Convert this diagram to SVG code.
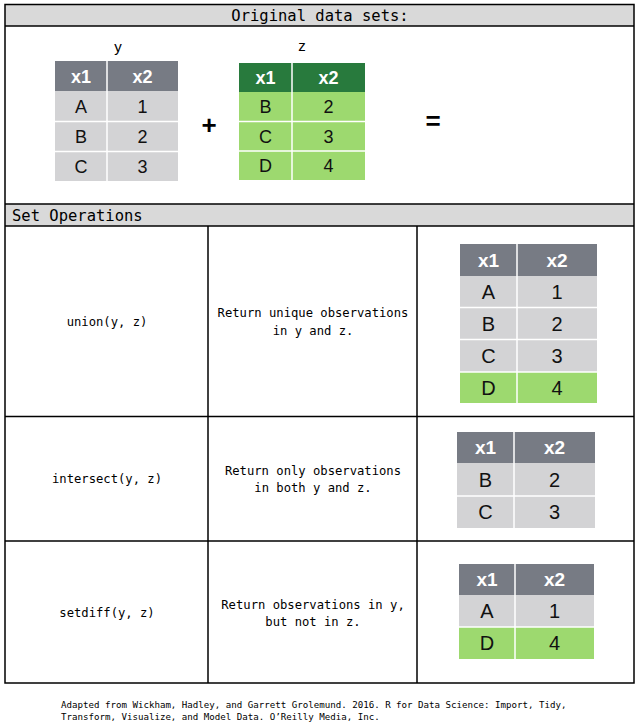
<svg xmlns="http://www.w3.org/2000/svg" width="644" height="725" viewBox="0 0 644 725">
<style>
.mono{font-family:"DejaVu Sans Mono","Liberation Mono",monospace;fill:#000}
.hdr{font-size:15.5px}
.cell{font-size:12.2px;text-anchor:middle}
.cred{font-size:9.15px}
.th{font-family:"Liberation Sans",Arial,sans-serif;font-weight:bold;font-size:18px;fill:#fff;text-anchor:middle}
.td{font-family:"Liberation Sans",Arial,sans-serif;font-size:18px;fill:#111;text-anchor:middle}
.r .th{font-size:19px}
.r .td{font-size:20px}
.gh{fill:#777b84}
.gb{fill:#d3d3d5}
.dg{fill:#287a3d}
.lg{fill:#9dd96f}
.sep{stroke:#fff;stroke-width:1.5}
.grid{stroke:#000;stroke-width:1.5;fill:none}
.lab{font-family:"Liberation Sans",Arial,sans-serif;font-size:15px;fill:#000;text-anchor:middle}
.op{font-family:"Liberation Sans",Arial,sans-serif;font-size:26px;font-weight:bold;fill:#000;text-anchor:middle}
</style>
<rect width="644" height="725" fill="#fff"/>
<g id="frame">
<rect x="5" y="4.5" width="629" height="21.5" fill="#d9d9d9"/>
<rect x="5" y="204" width="629" height="22" fill="#d9d9d9"/>
<rect class="grid" x="5" y="4.5" width="629" height="678.5"/>
<line class="grid" x1="5" y1="26" x2="634" y2="26"/>
<line class="grid" x1="5" y1="204" x2="634" y2="204"/>
<line class="grid" x1="5" y1="226" x2="634" y2="226"/>
<line class="grid" x1="5" y1="416.5" x2="634" y2="416.5"/>
<line class="grid" x1="5" y1="541" x2="634" y2="541"/>
<line class="grid" x1="208" y1="226" x2="208" y2="683"/>
<line class="grid" x1="417" y1="226" x2="417" y2="683"/>
<text class="mono hdr" x="320" y="21" text-anchor="middle">Original data sets:</text>
<text class="mono hdr" x="12" y="221">Set Operations</text>
</g>
<g id="table-y">
<text class="lab" x="118" y="52">y</text>
<rect class="gh" x="55" y="61" width="123" height="30"/>
<rect class="gb" x="55" y="91" width="123" height="90"/>
<line class="sep" x1="107" y1="61" x2="107" y2="181"/>
<line class="sep" x1="55" y1="121.5" x2="178" y2="121.5"/>
<line class="sep" x1="55" y1="151.5" x2="178" y2="151.5"/>
<text class="th" x="81" y="82.5">x1</text><text class="th" x="142.5" y="82.5">x2</text>
<text class="td" x="81" y="112.5">A</text><text class="td" x="142.5" y="112.5">1</text>
<text class="td" x="81" y="142.5">B</text><text class="td" x="142.5" y="142.5">2</text>
<text class="td" x="81" y="172.5">C</text><text class="td" x="142.5" y="172.5">3</text>
</g>
<g id="plus"><text class="op" x="209" y="134">+</text></g>
<g id="table-z">
<text class="lab" x="302" y="51">z</text>
<rect class="dg" x="239" y="63" width="126" height="29"/>
<rect class="lg" x="239" y="92" width="126" height="88"/>
<line class="sep" x1="292" y1="63" x2="292" y2="180"/>
<line class="sep" x1="239" y1="121.5" x2="365" y2="121.5"/>
<line class="sep" x1="239" y1="151" x2="365" y2="151"/>
<text class="th" x="265.5" y="84">x1</text><text class="th" x="328.5" y="84">x2</text>
<text class="td" x="265.5" y="113">B</text><text class="td" x="328.5" y="113">2</text>
<text class="td" x="265.5" y="142.5">C</text><text class="td" x="328.5" y="142.5">3</text>
<text class="td" x="265.5" y="172">D</text><text class="td" x="328.5" y="172">4</text>
</g>
<g id="equals"><text class="op" x="433" y="130">=</text></g>
<g id="row-union" class="r">
<text class="mono cell" x="107" y="326">union(y, z)</text>
<text class="mono cell" x="313" y="317">Return unique observations</text>
<text class="mono cell" x="313" y="335">in y and z.</text>
<rect class="gh" x="460" y="244" width="137" height="32"/>
<rect class="gb" x="460" y="276" width="137" height="96"/>
<rect class="lg" x="460" y="372" width="137" height="31"/>
<line class="sep" x1="517" y1="244" x2="517" y2="403"/>
<line class="sep" x1="460" y1="307.5" x2="597" y2="307.5"/>
<line class="sep" x1="460" y1="339.5" x2="597" y2="339.5"/>
<line class="sep" x1="460" y1="372" x2="597" y2="372"/>
<text class="th" x="488.5" y="267">x1</text><text class="th" x="557" y="267">x2</text>
<text class="td" x="488.5" y="299">A</text><text class="td" x="557" y="299">1</text>
<text class="td" x="488.5" y="331">B</text><text class="td" x="557" y="331">2</text>
<text class="td" x="488.5" y="363">C</text><text class="td" x="557" y="363">3</text>
<text class="td" x="488.5" y="395">D</text><text class="td" x="557" y="395">4</text>
</g>
<g id="row-intersect" class="r">
<text class="mono cell" x="107" y="483">intersect(y, z)</text>
<text class="mono cell" x="313" y="475">Return only observations</text>
<text class="mono cell" x="313" y="492">in both y and z.</text>
<rect class="gh" x="457" y="432" width="138" height="31"/>
<rect class="gb" x="457" y="463" width="138" height="65"/>
<line class="sep" x1="514" y1="432" x2="514" y2="528"/>
<line class="sep" x1="457" y1="496" x2="595" y2="496"/>
<text class="th" x="485.5" y="454">x1</text><text class="th" x="554.5" y="454">x2</text>
<text class="td" x="485.5" y="487">B</text><text class="td" x="554.5" y="487">2</text>
<text class="td" x="485.5" y="519">C</text><text class="td" x="554.5" y="519">3</text>
</g>
<g id="row-setdiff" class="r">
<text class="mono cell" x="107" y="617">setdiff(y, z)</text>
<text class="mono cell" x="313" y="609">Return observations in y,</text>
<text class="mono cell" x="313" y="626">but not in z.</text>
<rect class="gh" x="459" y="564" width="135" height="31"/>
<rect class="gb" x="459" y="595" width="135" height="32"/>
<rect class="lg" x="459" y="627" width="135" height="32"/>
<line class="sep" x1="515" y1="564" x2="515" y2="659"/>
<line class="sep" x1="459" y1="627" x2="594" y2="627"/>
<text class="th" x="487" y="586">x1</text><text class="th" x="554.5" y="586">x2</text>
<text class="td" x="487" y="618">A</text><text class="td" x="554.5" y="618">1</text>
<text class="td" x="487" y="650">D</text><text class="td" x="554.5" y="650">4</text>
</g>
<g id="credit">
<text class="mono cred" x="61" y="708">Adapted from Wickham, Hadley, and Garrett Grolemund. 2016. R for Data Science: Import, Tidy,</text>
<text class="mono cred" x="61" y="720">Transform, Visualize, and Model Data. O’Reilly Media, Inc.</text>
</g>
</svg>
